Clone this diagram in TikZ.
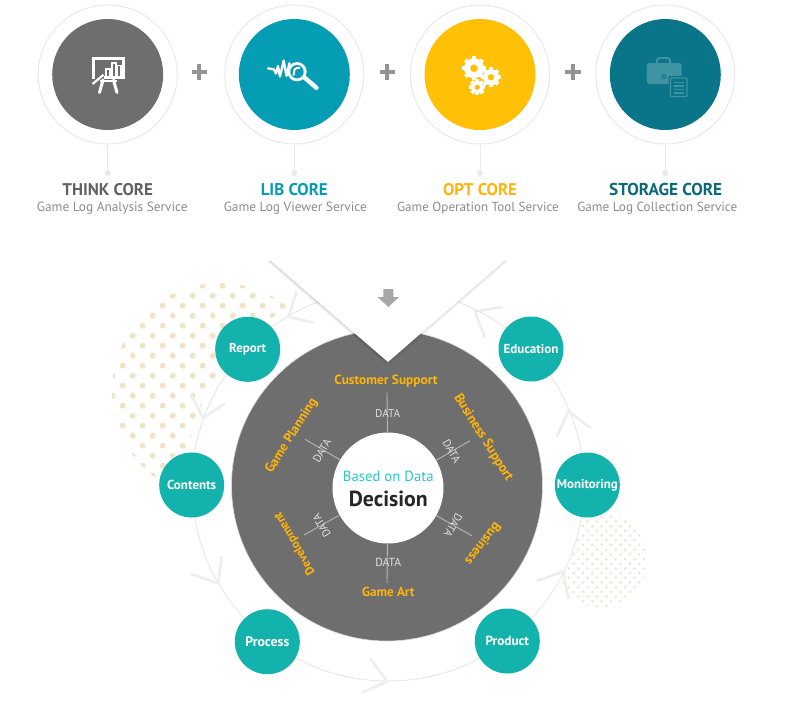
\documentclass[tikz,border=0pt]{standalone}
\usepackage{fontspec}
\usepackage{graphicx}
\setmainfont{PT Sans}
\newcommand{\fw}[2]{\resizebox{#1pt}{!}{#2}}
\definecolor{graydisc}{HTML}{6E6E6E}
\definecolor{libc}{HTML}{049DB4}
\definecolor{optc}{HTML}{FFC006}
\definecolor{stoc}{HTML}{0A7488}
\definecolor{stot}{HTML}{0A6A7A}
\definecolor{thinkt}{HTML}{626262}
\definecolor{optt}{HTML}{FFB50A}
\definecolor{subt}{HTML}{8C8C8C}
\definecolor{ringc}{HTML}{E9E9E9}
\definecolor{teal1}{HTML}{14B2AC}
\definecolor{dotc}{HTML}{F0E3C8}
\definecolor{chev}{HTML}{EEEEEE}
\definecolor{basedc}{HTML}{2CC6CC}
\definecolor{brief}{HTML}{3F93A3}
\newcommand{\geartoothed}[4]{%
  \begin{scope}[shift={(#1,#2)}]
    \fill[white] (0,0) circle[radius=#3];
    \foreach \a in {0,45,...,315}{\fill[white,rotate=\a] (-2,{#3-1}) rectangle (2,{#3+1.9});}
    \fill[optc] (0,0) circle[radius=#4];
  \end{scope}}
\tikzset{
  coreouter/.style={circle,draw=ringc,line width=1pt,fill=white,minimum size=139pt,inner sep=0pt},
  coreinner/.style={circle,minimum size=111pt,inner sep=0pt},
  stemline/.style={draw=ringc,line width=1pt},
  stemdot/.style={circle,fill=ringc,minimum size=6pt,inner sep=0pt},
  coretitle/.style={inner sep=0pt,font=\bfseries},
  coresub/.style={inner sep=0pt,text=subt},
  plusbar/.style={draw=black!42,line width=3.8pt},
  usecase/.style={circle,fill=teal1,minimum size=65pt,inner sep=0pt,text=white,font=\bfseries},
  spoke/.style={draw=black!28,line width=0.9pt},
  datalab/.style={inner sep=0pt,text=white!88!black},
  deptlab/.style={inner sep=0pt,text=optt,font=\bfseries},
  chevron/.style={draw=chev,line width=2.6pt},
  cyclering/.style={draw=ringc,line width=1pt},
}
\begin{document}
\begin{tikzpicture}[x=1pt,y=-1pt]
\useasboundingbox (0,0) rectangle (806,724);
\fill[white] (0,0) rectangle (806,724);

% dotted backdrops
\begin{scope}
  \clip (220,391) circle[radius=108];
  \foreach \j in {0,...,22}{
    \pgfmathsetmacro{\yy}{285.7+10*\j}
    \pgfmathsetmacro{\xo}{isodd(\j)?92.7:102.7}
    \foreach \k in {0,...,11}{
      \fill[dotc] ({\xo+20*\k},\yy) circle[radius=3];
    }}
\end{scope}
\fill[white] (388,485) circle[radius=203];
\begin{scope}
  \clip (600,560) circle[radius=47.5];
  \foreach \j in {0,...,21}{
    \pgfmathsetmacro{\yy}{512+4.7*\j}
    \pgfmathsetmacro{\xo}{isodd(\j)?554.7:559.4}
    \foreach \k in {0,...,10}{
      \fill[dotc] ({\xo+9.4*\k},\yy) circle[radius=1.4];
    }}
\end{scope}
\fill[white] (388,485) circle[radius=197];

% cycle ring and chevrons
\coordinate (cyc) at (388,485);
\draw[cyclering] (cyc) circle[radius=196];
\draw[chevron] (296.7,291.7) -- (288.3,316.7) -- (314,322.7);
\draw[chevron] (190.7,394) -- (203.3,418.3) -- (225,403.3);
\draw[chevron] (221.7,556) -- (218.3,583.3) -- (190.7,574);
\draw[chevron] (370,658.3) -- (387.3,681.3) -- (361.7,692.7);
\draw[chevron] (536.7,581) -- (563.3,571.7) -- (568.3,599);
\draw[chevron] (556.7,436.7) -- (568.3,411) -- (590.7,428.3);
\draw[chevron] (502.7,306.7) -- (475,311.7) -- (485,337.3);

% grey disc
\node[circle,fill=graydisc,draw=black!15,line width=0.6pt,minimum size=311pt,inner sep=0pt] (disc) at (387,485.5) {};

% white V with soft edge
\coordinate (vl) at (270,260);
\coordinate (vb) at (388,362);
\coordinate (vr) at (505,260);
\foreach \w in {6,4,2}{
  \draw[black,opacity=0.05,line width=\w pt] (vl) -- (vb);
  \draw[black,opacity=0.035,line width=\w pt] (vb) -- (vr);
}
\fill[white] (vl) -- (vb) -- (vr) -- (505,230) -- (270,230) -- cycle;
\fill[black!35] (383.3,289) -- (393.3,289) -- (393.3,297) -- (399,297) -- (388.5,307) -- (377.5,297) -- (383.3,297) -- cycle;

% hub
\node[circle,fill=white,minimum size=111pt,inner sep=0pt] (hub) at (388,488) {};
\coordinate (st) at (387,392.7);
\coordinate (sb) at (387,583);
\coordinate (sur) at (470,440.7);
\coordinate (sul) at (305,439.3);
\coordinate (sll) at (304,535);
\coordinate (slr) at (471.7,535.7);
\draw[spoke] (hub) -- (st);
\draw[spoke] (hub) -- (sb);
\draw[spoke] (hub) -- (sur);
\draw[spoke] (hub) -- (sul);
\draw[spoke] (hub) -- (sll);
\draw[spoke] (hub) -- (slr);

\node[inner sep=0pt,text=basedc] (based) at (388.3,478) {\fw{90.7}{Based on Data\vphantom{g}}};
\node[inner sep=0pt,text=black!85,font=\bfseries] (decision) at (388.3,499) {\fw{79}{Decision}};

\node[datalab] (d1) at (387.7,413.7) {\fw{25}{DATA}};
\node[datalab] (d2) at (388.3,562.3) {\fw{26}{DATA}};
\node[datalab,rotate=60] (d3) at (322,451) {\fw{25}{DATA}};
\node[datalab,rotate=-60] (d4) at (451.7,451) {\fw{25}{DATA}};
\node[datalab,rotate=120] (d5) at (321.7,526) {\fw{25}{DATA}};
\node[datalab,rotate=240] (d6) at (453.3,525) {\fw{25}{DATA}};

\node[deptlab] (customer) at (386,381) {\fw{103}{Customer Support\vphantom{g}}};
\node[deptlab] (art) at (388.3,592.7) {\fw{52.5}{Game Art\vphantom{g}}};
\node[deptlab,rotate=58] (planning) at (291.7,435.7) {\fw{86}{Game Planning}};
\node[deptlab,rotate=-58] (bsupport) at (483.3,437.7) {\fw{100}{Business Support}};
\node[deptlab,rotate=232] (business) at (482.3,543.3) {\fw{50}{Business\vphantom{g}}};
\node[deptlab,rotate=120] (develop) at (295,543.3) {\fw{70}{Development}};

% use case bubbles
\node[usecase] (report) at (247.7,349.3) {\fw{37}{Report}};
\node[usecase] (education) at (531,349) {\fw{55}{Education}};
\node[usecase] (contents) at (191.7,485) {\fw{49}{Contents}};
\node[usecase] (monitoring) at (587.3,485) {\fw{60.7}{Monitoring}};
\node[usecase] (process) at (267.3,641.7) {\fw{44}{Process}};
\node[usecase] (product) at (507.3,641) {\fw{43.5}{Product}};

% top row
\node[coreouter] (o1) at (107.7,74.5) {};
\node[coreouter] (o2) at (294.3,74.5) {};
\node[coreouter] (o3) at (480,74.5) {};
\node[coreouter] (o4) at (665.3,74.5) {};
\node[coreinner,fill=graydisc] (c1) at (107.7,74.5) {};
\node[coreinner,fill=libc] (c2) at (294.3,74.5) {};
\node[coreinner,fill=optc] (c3) at (480,74.5) {};
\node[coreinner,fill=stoc] (c4) at (665.3,74.5) {};
\foreach \n/\x in {1/107.7,2/294.3,3/480,4/665.3}{
  \node[stemdot] (p\n) at (\x,173) {};
  \draw[stemline] (o\n) -- (p\n);
}
\node[coretitle,text=thinkt] (t1) at (107.7,189.3) {\fw{90.5}{THINK CORE}};
\node[coretitle,text=libc] (t2) at (294.3,189.3) {\fw{67}{LIB CORE}};
\node[coretitle,text=optt] (t3) at (480,189.3) {\fw{74}{OPT CORE}};
\node[coretitle,text=stot] (t4) at (665.7,189.3) {\fw{113}{STORAGE CORE}};
\node[coresub] (s1) at (112.3,208.5) {\fw{150.7}{Game Log Analysis Service}};
\node[coresub] (s2) at (295.3,208.5) {\fw{143}{Game Log Viewer Service}};
\node[coresub] (s3) at (478,208.5) {\fw{161.7}{Game Operation Tool Service}};
\node[coresub] (s4) at (657.3,208.5) {\fw{160}{Game Log Collection Service}};

% plus signs
\foreach \x in {199.3,387.3,573}{
  \draw[plusbar] ({\x-7.6},72) -- ({\x+7.6},72);
  \draw[plusbar] (\x,64.4) -- (\x,79.6);
}

% icon: presentation board
\begin{scope}[white]
  \fill (92,57.2) rectangle (124.8,60.2);
  \fill (92.3,60) rectangle (94.8,79);
  \fill (122.2,60) rectangle (124.6,78);
  \fill (104,76.3) rectangle (124.6,78.5);
  \draw[line width=1.8pt] (106.2,68.7) rectangle (109.8,77);
  \draw[line width=1.8pt] (112,62.7) rectangle (115.6,77);
  \draw[line width=1.8pt] (117.4,65.5) rectangle (121,77);
  \draw[line width=2.2pt] (92.5,84) -- (103.5,74.8);
  \draw[line width=3pt,line cap=round] (103,80) -- (99.5,92.5);
  \draw[line width=3pt,line cap=round] (113.5,80) -- (117,92.5);
  \draw[line width=2.2pt] (100,81) -- (117,81);
\end{scope}

% icon: wave and magnifier
\begin{scope}
  \draw[white,line width=2.3pt,line join=round,line cap=round]
    (268,68.3) -- (274,69.5) -- (276,73.5) -- (278,66) -- (280,76.5) -- (283.7,60.5) -- (286.5,76) -- (289.5,63);
  \draw[white,line width=2.8pt] (297,71.7) circle[radius=8.2];
  \draw[white,line width=2pt] (293.5,75.5) -- (294.5,69.5) .. controls (296,67.7) and (298,67.5) .. (300,68);
  \draw[white,line width=4.4pt,line cap=round] (304.5,77.5) -- (316.5,87.8);
\end{scope}

% icon: gears
\geartoothed{474}{68.3}{10}{3.8}
\geartoothed{491}{77.3}{8}{3.2}
\geartoothed{477.3}{87.3}{6.2}{2.6}

% icon: briefcase and sheet
\begin{scope}
  \draw[brief,line width=1.8pt] (657,63.5) -- (657,60.5) .. controls (657,58.5) and (658,58) .. (660,58) -- (667,58) .. controls (669,58) and (670,58.5) .. (670,60.5) -- (670,63.5);
  \fill[brief,rounded corners=3pt] (646.7,63) rectangle (681.7,84);
  \fill[stoc] (664,76.5) circle[radius=2.4];
  \fill[brief] (664,76.5) circle[radius=1.3];
  \fill[stoc,rounded corners=1pt] (668.5,76) rectangle (688.8,98);
  \draw[brief,line width=1.4pt,rounded corners=1pt] (670.5,78) rectangle (687,96.5);
  \foreach \y in {82.5,86,89.5,93}{
    \draw[brief,line width=1.4pt] (673.5,\y) -- (684,\y);
  }
\end{scope}
\end{tikzpicture}
\end{document}
